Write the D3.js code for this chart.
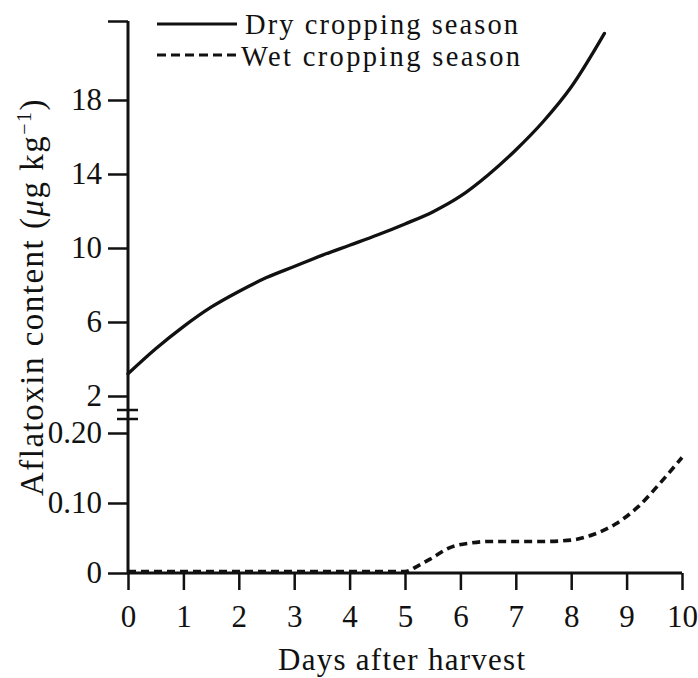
<!DOCTYPE html>
<html><head><meta charset="utf-8">
<script src="https://cdn.jsdelivr.net/npm/d3@7"></script>
<style>
body{margin:0;background:#fff}
svg{display:block}
text{font-family:"Liberation Serif","Times New Roman",serif;fill:#111}
</style>
</head><body>
<svg id="c" width="698" height="678"></svg>
<script>
// ---- data ----
const xTicks = [0, 1, 2, 3, 4, 5, 6, 7, 8, 9, 10];
const dryDays   = [0, 0.5, 1, 1.5, 2, 2.5, 3, 3.5, 4, 4.5, 5, 5.5, 6, 6.5, 7, 7.5, 8, 8.6];
const dryValues = [3.2, 4.55, 5.75, 6.8, 7.65, 8.4, 9.0, 9.6, 10.15, 10.7, 11.3, 11.95, 12.8, 13.95, 15.3, 16.85, 18.7, 21.6];
const wetDays   = [0, 1, 2, 3, 4, 5, 5.25, 5.5, 5.8, 6.2, 6.5, 7, 7.5, 8, 8.4, 8.8, 9.2, 9.6, 10];
const wetValues = [0.002, 0.002, 0.002, 0.002, 0.002, 0.002, 0.011, 0.022, 0.036, 0.043, 0.045, 0.045, 0.045, 0.047, 0.055, 0.070, 0.094, 0.128, 0.165];
const upperTicks = [2, 6, 10, 14, 18];
const upperTop = 22.27;
const lowerTicks = [0, 0.10, 0.20];
const lowerTickLabels = ["0", "0.10", "0.20"];
const seriesNames = ["Dry cropping season", "Wet cropping season"];
const xTitle = "Days after harvest";

// ---- scales ----
const svg = d3.select("#c");
const x = d3.scaleLinear([0, 10], [128, 682]);
const yUp = d3.scaleLinear([2, upperTop], [396, 21]);
const yLo = d3.scaleLinear([0, 0.2], [573, 433]);
const ink = "#111";

// upper y axis
const gUp = svg.append("g").attr("transform", "translate(128,0)")
  .call(d3.axisLeft(yUp).tickValues([...upperTicks, upperTop])
    .tickFormat(d => upperTicks.includes(d) ? d : "")
    .tickSize(20).tickPadding(6).tickSizeOuter(0));
// lower y axis
const gLo = svg.append("g").attr("transform", "translate(128,0)")
  .call(d3.axisLeft(yLo).tickValues(lowerTicks)
    .tickFormat((d, i) => lowerTickLabels[i])
    .tickSize(20).tickPadding(6).tickSizeOuter(0));
// x axis
const gX = svg.append("g").attr("transform", `translate(0,${yLo(0)})`)
  .call(d3.axisBottom(x).tickValues(xTicks).tickSize(17).tickPadding(15).tickSizeOuter(0));

[gUp, gLo, gX].forEach(g => {
  g.select(".domain").remove();
  g.selectAll(".tick line").attr("stroke", ink).attr("stroke-width", 2.5);
  g.selectAll(".tick text").attr("font-size", 31).attr("font-family", null).attr("fill", ink);
});
gX.append("line").attr("x1", x(0)).attr("x2", x(10)).attr("y1", 0).attr("y2", 0)
  .attr("stroke", ink).attr("stroke-width", 3);

// y axis line (continuous through break)
svg.append("line").attr("x1", 128).attr("x2", 128)
  .attr("y1", yUp(upperTop)).attr("y2", yLo(0))
  .attr("stroke", ink).attr("stroke-width", 3);

// break marks
const mid = (yUp(2) + yLo(0.2)) / 2;
[-4.5, 4.5].forEach(o => {
  svg.append("line").attr("x1", 117).attr("x2", 138).attr("y1", mid + o).attr("y2", mid + o)
    .attr("stroke", ink).attr("stroke-width", 2.5);
});

// curves
const dry = dryDays.map((d, i) => [d, dryValues[i]]);
const wet = wetDays.map((d, i) => [d, wetValues[i]]);
svg.append("path").datum(dry)
  .attr("d", d3.line().x(d => x(d[0])).y(d => yUp(d[1])).curve(d3.curveMonotoneX))
  .attr("fill", "none").attr("stroke", ink).attr("stroke-width", 3.3).attr("stroke-linecap", "round");
svg.append("path").datum(wet)
  .attr("d", d3.line().x(d => x(d[0])).y(d => yLo(d[1])).curve(d3.curveMonotoneX))
  .attr("fill", "none").attr("stroke", ink).attr("stroke-width", 3.6)
  .attr("stroke-dasharray", "8,5");

// legend
const leg = [
  {y: 24, tx: 245, ty: 34, len: 273, dash: null, x2: 237},
  {y: 55, tx: 241, ty: 66, len: 279, dash: "9,5", x2: 240}
];
leg.forEach((l, i) => {
  svg.append("line").attr("x1", 157).attr("x2", l.x2).attr("y1", l.y).attr("y2", l.y)
    .attr("stroke", ink).attr("stroke-width", 3).attr("stroke-dasharray", l.dash);
  svg.append("text").attr("x", l.tx).attr("y", l.ty).attr("font-size", 28.5)
    .attr("textLength", l.len).attr("lengthAdjust", "spacing").text(seriesNames[i]);
});

// x title
svg.append("text").attr("x", 278).attr("y", 670).attr("font-size", 31)
  .attr("textLength", 247).attr("lengthAdjust", "spacing").text(xTitle);

// y title
const yt = svg.append("text").attr("transform", "translate(43,297) rotate(-90)")
  .attr("text-anchor", "middle").attr("font-size", 33).attr("letter-spacing", "1.5px");
yt.append("tspan").text("Aflatoxin content (");
yt.append("tspan").attr("font-style", "italic").text("μ");
yt.append("tspan").text("g kg");
yt.append("tspan").attr("font-size", 20).attr("dy", -12).text("−1");
yt.append("tspan").attr("dy", 12).text(")");
</script>
</body></html>
